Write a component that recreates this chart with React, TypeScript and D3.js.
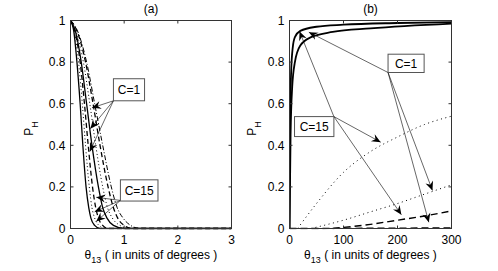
import * as d3 from "d3";

type Pt = [number, number];

const yTicks = [0, 0.2, 0.4, 0.6, 0.8, 1];
const xTicksA = [0, 1, 2, 3];
const xTicksB = [0, 100, 200, 300];

// panel (a): P_H falling with theta13
const aSolid1: Pt[] = [[0, 1], [0.06, 0.95], [0.12, 0.8], [0.18, 0.6], [0.23, 0.4], [0.29, 0.2], [0.34, 0.1], [0.38, 0.05], [0.45, 0.015], [0.55, 0], [3, 0]];
const aDotted1: Pt[] = [[0, 1], [0.07, 0.95], [0.15, 0.8], [0.22, 0.6], [0.28, 0.4], [0.35, 0.2], [0.4, 0.1], [0.45, 0.05], [0.53, 0.015], [0.65, 0], [3, 0]];
const aDashed1: Pt[] = [[0, 1], [0.08, 0.95], [0.18, 0.8], [0.26, 0.6], [0.33, 0.4], [0.41, 0.2], [0.47, 0.1], [0.52, 0.05], [0.6, 0.015], [0.7, 0], [3, 0]];
const aSolid2: Pt[] = [[0, 1], [0.09, 0.95], [0.2, 0.8], [0.3, 0.6], [0.4, 0.4], [0.52, 0.2], [0.6, 0.1], [0.68, 0.05], [0.8, 0.015], [1.0, 0], [3, 0]];
const aDotted2: Pt[] = [[0, 1], [0.1, 0.95], [0.24, 0.8], [0.36, 0.6], [0.47, 0.4], [0.6, 0.2], [0.69, 0.1], [0.78, 0.05], [0.92, 0.015], [1.1, 0], [3, 0]];
const aDashed2: Pt[] = [[0, 1], [0.12, 0.95], [0.28, 0.8], [0.42, 0.6], [0.55, 0.4], [0.7, 0.2], [0.8, 0.1], [0.88, 0.05], [1.0, 0.015], [1.15, 0], [3, 0]];
const aDashDot: Pt[] = [[0, 1], [0.13, 0.95], [0.3, 0.8], [0.45, 0.6], [0.6, 0.4], [0.76, 0.2], [0.87, 0.1], [0.98, 0.05], [1.12, 0.015], [1.3, 0], [3, 0]];

// panel (b): P_H rising with theta13
const bSolid1: Pt[] = [[0, 0], [1, 0.5], [3, 0.75], [6, 0.87], [10, 0.92], [20, 0.95], [50, 0.97], [100, 0.98], [200, 0.988], [300, 0.992]];
const bSolid2: Pt[] = [[0, 0], [2, 0.45], [5, 0.68], [10, 0.8], [20, 0.88], [40, 0.92], [80, 0.945], [150, 0.962], [300, 0.985]];
const bDotted1: Pt[] = [[15, 0], [50, 0.12], [100, 0.27], [150, 0.37], [200, 0.44], [250, 0.5], [300, 0.54]];
const bDotted2: Pt[] = [[40, 0], [100, 0.04], [150, 0.08], [200, 0.12], [250, 0.165], [300, 0.21]];
const bDashed1: Pt[] = [[80, 0], [150, 0.02], [200, 0.04], [250, 0.06], [300, 0.085]];
const bDashed2: Pt[] = [[0, 0], [150, 0.001], [300, 0.003]];

// annotations: box [x1, yTop, x2, yBottom], arrow origin, arrow tips (data units)
const aNotes = [
  { label: "C=1", box: [0.8, 0.72, 1.38, 0.614], from: [0.8, 0.614] as Pt, tips: [[0.4, 0.58], [0.37, 0.48], [0.36, 0.37]] as Pt[] },
  { label: "C=15", box: [0.93, 0.234, 1.63, 0.132], from: [0.93, 0.135] as Pt, tips: [[0.48, 0.15], [0.45, 0.08], [0.48, 0.034]] as Pt[] },
];
const bNotes = [
  { label: "C=1", box: [182.5, 0.838, 249.3, 0.75], from: [182.5, 0.75] as Pt, tips: [[35.8, 0.944], [264.7, 0.183], [258, 0.03]] as Pt[] },
  { label: "C=15", box: [9.3, 0.538, 82.2, 0.442], from: [82.2, 0.538] as Pt, tips: [[18.6, 0.947], [168.9, 0.415], [207.2, 0.066]] as Pt[] },
];

const FONT = "'Liberation Sans', Arial, Helvetica, sans-serif";
const FS = 12;
const top = 20.5;
const bottom = 228.5;

type Series = { pts: Pt[]; dash?: string; w: number };

const seriesA: Series[] = [
  { pts: aSolid1, w: 1.3 },
  { pts: aDotted1, dash: "1,2.5", w: 1 },
  { pts: aDashed1, dash: "5,3", w: 1.3 },
  { pts: aSolid2, w: 1.3 },
  { pts: aDotted2, dash: "1,2.5", w: 1 },
  { pts: aDashed2, dash: "5,3", w: 1.3 },
  { pts: aDashDot, dash: "5,2,1,2", w: 1 },
];
const seriesB: Series[] = [
  { pts: bSolid1, w: 1.8 },
  { pts: bSolid2, w: 1.8 },
  { pts: bDotted1, dash: "1,3.5", w: 1 },
  { pts: bDotted2, dash: "1,3.5", w: 1 },
  { pts: bDashed1, dash: "7,4", w: 1.4 },
  { pts: bDashed2, dash: "7,4", w: 1.4 },
];

function Arrow({ x1, y1, x2, y2 }: { x1: number; y1: number; x2: number; y2: number }) {
  const ang = (Math.atan2(y2 - y1, x2 - x1) * 180) / Math.PI;
  return (
    <g>
      <line x1={x1} y1={y1} x2={x2} y2={y2} stroke="#000" strokeWidth={0.6} />
      <path d="M0,0 L-9,-4 L-6,0 L-9,4 Z" transform={`translate(${x2},${y2}) rotate(${ang})`} fill="#000" />
    </g>
  );
}

function Panel({ id, left, right, domain, xTicks, series, notes, title, ylabX }: any) {
  const x = d3.scaleLinear().domain(domain).range([left, right]);
  const y = d3.scaleLinear().domain([0, 1]).range([bottom, top]);
  const line = d3
    .line<Pt>()
    .x((d) => x(d[0]))
    .y((d) => y(d[1]))
    .curve(d3.curveMonotoneX);
  const mid = (left + right) / 2;
  return (
    <g>
      <defs>
        <clipPath id={`clip-${id}`}>
          <rect x={left} y={top - 1} width={right - left} height={bottom - top + 2} />
        </clipPath>
      </defs>
      <rect x={left} y={top} width={right - left} height={bottom - top} fill="#fff" />
      <g clipPath={`url(#clip-${id})`}>
        {series.map((s: Series, i: number) => (
          <path key={i} d={line(s.pts) || ""} fill="none" stroke="#000" strokeWidth={s.w} strokeDasharray={s.dash} />
        ))}
      </g>
      {/* frame and inward ticks */}
      <rect x={left} y={top} width={right - left} height={bottom - top} fill="none" stroke="#333" strokeWidth={1} />
      {xTicks.map((t: number) => (
        <g key={t}>
          <line x1={x(t)} x2={x(t)} y1={bottom} y2={bottom - 3} stroke="#333" />
          <line x1={x(t)} x2={x(t)} y1={top} y2={top + 3} stroke="#333" />
          <text x={x(t)} y={244} textAnchor="middle" fontSize={FS} fontFamily={FONT}>{t}</text>
        </g>
      ))}
      {yTicks.map((t) => (
        <g key={t}>
          <line x1={left} x2={left + 3} y1={y(t)} y2={y(t)} stroke="#333" />
          <line x1={right} x2={right - 3} y1={y(t)} y2={y(t)} stroke="#333" />
          <text x={left - 5} y={y(t) + 4.3} textAnchor="end" fontSize={FS} fontFamily={FONT}>{t}</text>
        </g>
      ))}
      <text x={mid} y={13} textAnchor="middle" fontSize={FS} fontFamily={FONT}>{title}</text>
      <text x={mid} y={258.5} textAnchor="middle" fontSize={FS} fontFamily={FONT}>
        θ<tspan fontSize={9} dy={4.5}>13</tspan>
        <tspan dy={-4.5}> ( in units of degrees )</tspan>
      </text>
      <text transform={`translate(${ylabX},${(top + bottom) / 2 + 4}) rotate(-90)`} textAnchor="middle" fontSize={FS} fontFamily={FONT}>
        P<tspan fontSize={9} dy={4.5}>H</tspan>
      </text>
      {notes.map((n: any, i: number) => (
        <g key={i}>
          {n.tips.map((t: Pt, j: number) => (
            <Arrow key={j} x1={x(n.from[0])} y1={y(n.from[1])} x2={x(t[0])} y2={y(t[1])} />
          ))}
          <rect
            x={x(n.box[0])}
            y={y(n.box[1])}
            width={x(n.box[2]) - x(n.box[0])}
            height={y(n.box[3]) - y(n.box[1])}
            fill="#fff"
            stroke="#555"
            strokeWidth={1}
          />
          <text
            x={(x(n.box[0]) + x(n.box[2])) / 2}
            y={(y(n.box[1]) + y(n.box[3])) / 2 + 4.3}
            textAnchor="middle"
            fontSize={FS}
            fontFamily={FONT}
          >
            {n.label}
          </text>
        </g>
      ))}
    </g>
  );
}

export default function App() {
  return (
    <svg width={498} height={271} style={{ position: "absolute", left: 0, top: 0, background: "#fff" }}>
      <rect width={498} height={271} fill="#fff" />
      <Panel id="a" left={70.5} right={231.5} domain={[0, 3]} xTicks={xTicksA} series={seriesA} notes={aNotes} title="(a)" ylabX={33} />
      <Panel id="b" left={289.5} right={451.5} domain={[0, 300]} xTicks={xTicksB} series={seriesB} notes={bNotes} title="(b)" ylabX={256} />
    </svg>
  );
}
